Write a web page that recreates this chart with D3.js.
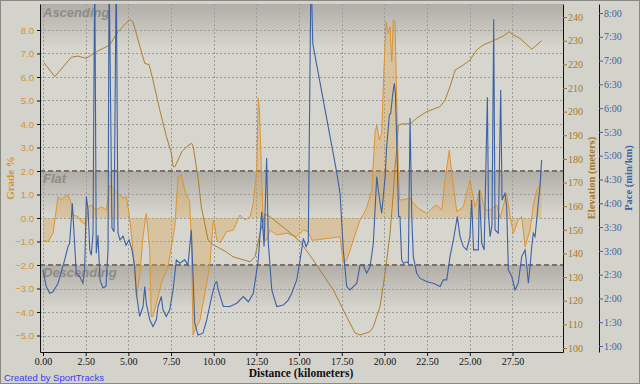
<!DOCTYPE html>
<html><head><meta charset="utf-8">
<script src="https://cdn.jsdelivr.net/npm/d3@7/dist/d3.min.js"></script>
<style>body{margin:0;background:#d4d3cb;} svg{display:block}</style>
</head><body><svg id="c" width="640" height="384"></svg>
<script>
// ---------- data ----------
const distTicks = [0, 2.5, 5, 7.5, 10, 12.5, 15, 17.5, 20, 22.5, 25, 27.5];
const gradeTicks = [-5, -4, -3, -2, -1, 0, 1, 2, 3, 4, 5, 6, 7, 8];
const elevTicks = [100, 110, 120, 130, 140, 150, 160, 170, 180, 190, 200, 210, 220, 230, 240];
const paceTicks = [1, 1.5, 2, 2.5, 3, 3.5, 4, 4.5, 5, 5.5, 6, 6.5, 7, 7.5, 8];

const elevDist = [0.06,0.69,1.66,2.05,2.54,3.12,3.91,4.39,5.08,5.27,5.57,5.96,6.21,6.44,6.84,7.23,7.52,7.63,7.73,8.13,8.42,8.71,8.80,9.10,9.27,9.67,9.98,10.66,11.13,12.13,12.42,12.71,13.01,13.30,14.28,15.06,15.83,17.01,17.79,18.28,18.57,19.16,19.35,19.74,20.04,20.33,20.52,20.62,20.72,20.81,21.03,21.50,21.89,22.48,23.26,23.55,23.84,24.14,24.62,25.01,25.41,25.79,26.38,26.97,27.30,27.55,27.94,28.63,29.21];
const elevValues = [220.7,214.8,223.0,223.5,222.5,225.3,228.2,233.8,239.0,238.0,230.3,220.4,219.9,213.4,200.7,189.4,182.4,176.7,176.7,183.0,185.2,186.6,185.2,171.1,159.8,145.7,143.6,141.0,138.6,136.5,138.6,148.6,156.7,155.5,149.9,145.0,137.2,124.5,113.2,106.3,105.5,106.9,109.0,117.5,131.7,148.6,165.6,176.6,183.8,194.3,194.8,194.8,197.2,200.0,202.1,204.9,210.5,217.6,219.7,221.8,226.1,228.2,230.0,232.0,233.8,232.4,231.0,226.4,230.0];

const gradeDist = [0.00,0.29,0.59,0.88,1.07,1.27,1.46,1.66,1.76,2.05,2.24,2.54,2.64,2.83,3.12,3.42,3.71,3.91,4.29,4.69,4.88,5.08,5.27,5.47,5.66,5.86,6.05,6.25,6.34,6.44,6.64,6.93,7.32,7.72,7.91,8.10,8.30,8.59,8.69,8.79,8.89,9.20,9.59,9.78,9.98,10.05,10.18,10.37,10.76,11.15,11.54,11.83,12.13,12.32,12.52,12.61,12.68,12.81,12.94,13.10,13.29,13.69,14.28,14.86,15.25,15.54,15.74,15.93,17.40,17.59,17.79,18.18,18.57,18.96,19.26,19.45,19.55,19.70,19.84,19.94,20.09,20.23,20.33,20.43,20.52,20.62,20.72,20.81,20.88,21.01,21.50,21.69,21.99,22.48,22.77,23.06,23.36,23.55,23.80,23.94,24.24,24.62,25.01,25.31,25.60,25.89,26.19,26.58,26.77,27.16,27.36,27.55,27.84,28.04,28.24,28.53,28.72,28.92,29.12,29.21];
const gradeValues = [-0.94,-1.01,-0.65,0.91,0.77,0.91,0.98,0.63,0.13,0.06,-0.16,-0.30,0.48,0.55,0.34,0.48,0.34,1.40,1.12,0.84,0.91,-0.01,-1.36,-3.35,-2.50,-0.80,0.20,-1.36,-4.20,-4.20,-3.63,-2.78,-2.07,-0.37,1.76,1.83,1.19,0.69,-0.94,-4.98,-4.77,-4.34,-2.77,-1.91,-0.09,-0.30,-0.94,-1.06,-0.58,-0.51,0.13,-0.09,0.06,0.64,2.04,5.11,4.60,1.62,-0.94,-0.94,-0.51,-0.72,-0.65,-0.80,-0.51,-0.58,-0.94,-0.94,-0.80,-1.93,-1.79,-0.94,-0.09,0.43,1.19,3.60,3.96,3.32,3.60,5.73,8.35,7.86,8.14,6.65,8.43,8.35,5.02,2.18,0.77,0.77,0.84,0.64,0.41,0.20,0.41,0.55,0.34,1.62,2.89,1.90,0.27,0.48,1.62,0.48,1.19,0.34,0.34,0.55,0.00,1.05,0.06,-0.65,-0.09,0.06,-1.22,-0.51,0.55,1.19,1.40,2.04];

const paceDist = [0.00,0.19,0.39,0.59,0.88,1.27,1.46,1.56,1.72,1.86,1.95,2.15,2.34,2.44,2.54,2.64,2.74,2.83,2.93,3.03,3.12,3.22,3.34,3.51,3.69,3.81,3.87,4.04,4.16,4.29,4.39,4.51,4.69,4.86,5.04,5.21,5.37,5.47,5.66,5.86,5.96,6.05,6.25,6.44,6.64,6.74,6.93,7.03,7.22,7.42,7.62,7.81,8.01,8.30,8.49,8.69,8.79,8.89,9.08,9.37,9.59,9.88,10.08,10.18,10.27,10.56,10.95,11.35,11.73,12.03,12.32,12.61,12.81,12.95,13.10,13.20,13.40,13.69,14.08,14.37,14.57,14.86,15.06,15.25,15.41,15.54,15.70,15.80,17.21,17.40,17.59,17.79,17.98,18.18,18.38,18.57,18.76,18.96,19.16,19.35,19.55,19.64,19.84,20.04,20.13,20.29,20.37,20.49,20.58,20.64,20.72,20.83,20.91,21.01,21.11,21.31,21.40,21.50,21.60,21.69,21.89,22.09,22.48,22.86,23.26,23.45,23.65,23.84,24.04,24.27,24.43,24.62,24.82,25.01,25.11,25.22,25.50,25.56,25.70,25.84,26.03,26.10,26.19,26.30,26.40,26.48,26.67,26.81,26.89,27.06,27.16,27.26,27.46,27.65,27.84,28.04,28.24,28.34,28.43,28.53,28.63,28.72,28.82,28.92,29.01,29.11,29.21];
const paceValues = [2.60,2.25,2.11,2.14,2.32,2.81,3.09,3.16,4.00,3.09,2.53,2.46,2.32,2.60,4.14,3.86,3.02,2.91,3.37,9.00,2.95,3.33,2.39,2.22,2.26,3.02,9.00,3.48,3.40,9.00,3.38,3.23,3.31,3.12,3.23,3.02,2.67,2.11,1.62,1.83,2.25,1.90,1.55,1.41,1.55,1.83,2.04,1.76,1.62,1.76,2.18,2.81,2.74,2.81,2.70,3.44,2.46,1.48,1.23,1.27,1.55,2.04,2.32,2.35,2.18,1.83,1.83,1.90,2.04,1.93,2.11,2.81,3.82,3.09,4.95,3.16,2.18,1.83,1.86,1.97,2.11,2.39,2.81,3.26,3.09,3.19,9.00,7.36,4.64,4.21,3.02,2.25,2.18,2.25,2.32,2.70,2.70,2.53,2.67,3.16,4.56,4.28,3.79,4.56,5.19,5.86,5.89,6.31,6.52,6.31,5.33,3.72,3.72,2.81,2.74,2.77,2.74,5.79,3.72,2.88,2.53,2.42,2.35,2.32,2.25,2.39,2.39,2.88,3.23,3.72,3.30,3.09,3.02,3.30,4.07,3.02,3.02,4.28,3.16,3.02,6.23,3.72,3.30,3.54,7.87,3.44,3.37,6.38,4.07,4.21,3.93,2.60,2.46,2.18,2.32,2.88,3.02,2.67,2.32,2.67,3.09,3.37,3.30,3.65,4.00,4.35,4.91];

const bandLabels = ["Ascending", "Flat", "Descending"];

// ---------- chart ----------
const svg = d3.select("#c");
const L = 40, R = 563, T = 4, B = 352;

const x = d3.scaleLinear().domain([-0.176, 30.46]).range([L, R]);
const yG = d3.scaleLinear().domain([-5.702, 9.106]).range([B, T]);
const yE = d3.scaleLinear().domain([98.31, 245.52]).range([B, T]);
const yP = d3.scaleLinear().domain([0.8739, 8.189]).range([B, T]);

const defs = svg.append("defs");
const grad = defs.append("linearGradient").attr("id", "band").attr("x1", 0).attr("y1", 0).attr("x2", 0).attr("y2", 1);
grad.append("stop").attr("offset", 0).attr("stop-color", "#b1aea7");
grad.append("stop").attr("offset", 1).attr("stop-color", "#d5d4cc");
defs.append("clipPath").attr("id", "clip").append("rect")
  .attr("x", L).attr("y", T).attr("width", R - L).attr("height", B - T);

// background
svg.append("rect").attr("x", 0).attr("y", 0).attr("width", 640).attr("height", 384).attr("fill", "#d4d3cb");
svg.append("rect").attr("x", L).attr("y", T).attr("width", R - L).attr("height", B - T).attr("fill", "#d6d5ce");

// bands
const bandTops = [T, yG(2), yG(-2)];
svg.selectAll("rect.band").data(bandTops).join("rect").attr("class", "band")
  .attr("x", L).attr("y", d => d).attr("width", R - L).attr("height", 42).attr("fill", "url(#band)");

// grid
const grid = svg.append("g").attr("stroke", "#9c9b96").attr("stroke-width", 1).attr("stroke-dasharray", "2,2");
grid.selectAll("line.v").data(distTicks).join("line").attr("class", "v")
  .attr("x1", d => Math.round(x(d)) + 0.5).attr("x2", d => Math.round(x(d)) + 0.5).attr("y1", T).attr("y2", B);
grid.selectAll("line.h").data(gradeTicks.filter(d => d !== 2 && d !== -2)).join("line").attr("class", "h")
  .attr("y1", d => Math.round(yG(d)) + 0.5).attr("y2", d => Math.round(yG(d)) + 0.5).attr("x1", L).attr("x2", R);

// dashed thresholds
svg.selectAll("line.th").data([2, -2]).join("line").attr("class", "th")
  .attr("x1", L).attr("x2", R).attr("y1", d => yG(d)).attr("y2", d => yG(d))
  .attr("stroke", "#7d6f69").attr("stroke-width", 2).attr("stroke-dasharray", "5,3");

// band labels
svg.selectAll("text.bl").data(bandLabels).join("text").attr("class", "bl")
  .attr("x", 43).attr("y", (d, i) => [17, yG(2) + 12, yG(-2) + 12][i])
  .attr("font-family", "Liberation Sans, Arial, sans-serif").attr("font-size", 13)
  .attr("font-weight", "bold").attr("font-style", "italic").attr("fill", "#8e8c87").text(d => d);

const plot = svg.append("g").attr("clip-path", "url(#clip)");

// grade fill + line
const gData = gradeDist.map((d, i) => [d, gradeValues[i]]);
plot.append("path").datum(gData)
  .attr("d", d3.area().x(d => x(d[0])).y0(yG(0)).y1(d => yG(d[1])))
  .attr("fill", "#dba450").attr("fill-opacity", 0.36);
plot.append("path").datum(gData)
  .attr("d", d3.line().x(d => x(d[0])).y(d => yG(d[1])))
  .attr("fill", "none").attr("stroke", "#dc9430").attr("stroke-width", 1);

// elevation
const eData = elevDist.map((d, i) => [d, elevValues[i]]);
plot.append("path").datum(eData)
  .attr("d", d3.line().x(d => x(d[0])).y(d => yE(d[1])))
  .attr("fill", "none").attr("stroke", "#b07e2c").attr("stroke-width", 1);

// pace
const pData = paceDist.map((d, i) => [d, paceValues[i]]);
plot.append("path").datum(pData)
  .attr("d", d3.line().x(d => x(d[0])).y(d => yP(d[1])))
  .attr("fill", "none").attr("stroke", "#3d62a4").attr("stroke-width", 1.1);

// axes
const serif = "Liberation Serif, Times New Roman, serif";
const sans = "Liberation Sans, Arial, sans-serif";

const ax = svg.append("g").attr("transform", `translate(0,${B})`)
  .call(d3.axisBottom(x).tickValues(distTicks).tickFormat(d3.format(".2f")).tickSize(4).tickSizeOuter(0));
ax.select(".domain").attr("stroke", "#111");
ax.selectAll(".tick line").attr("stroke", "#111");
ax.selectAll("text").attr("font-family", serif).attr("font-size", 10).attr("fill", "#111").attr("dy", "0.55em");

const ayL = svg.append("g").attr("transform", `translate(${L},0)`)
  .call(d3.axisLeft(yG).tickValues(gradeTicks).tickFormat(d3.format(".1f")).tickSize(3).tickSizeOuter(0));
ayL.select(".domain").attr("stroke", "#111");
ayL.selectAll(".tick line").attr("stroke", "#111");
ayL.selectAll("text").attr("font-family", sans).attr("font-size", 9.5).attr("fill", "#d4922c").attr("x", -6);

const ayE = svg.append("g").attr("transform", `translate(${R},0)`)
  .call(d3.axisRight(yE).tickValues(elevTicks).tickFormat(d3.format("d")).tickSize(4).tickSizeOuter(0));
ayE.select(".domain").attr("stroke", "#111");
ayE.selectAll(".tick line").attr("stroke", "#9a7430");
ayE.selectAll("text").attr("font-family", serif).attr("font-size", 10).attr("fill", "#a5782a").attr("x", 5);

const fmtPace = v => { const m = Math.floor(v); const s = Math.round((v - m) * 60); return m + ":" + String(s).padStart(2, "0"); };
const ayP = svg.append("g").attr("transform", "translate(599,0)")
  .call(d3.axisRight(yP).tickValues(paceTicks).tickFormat(fmtPace).tickSize(4).tickSizeOuter(0));
ayP.select(".domain").attr("stroke", "#111");
ayP.selectAll(".tick line").attr("stroke", "#3d62a4");
ayP.selectAll("text").attr("font-family", serif).attr("font-size", 10).attr("fill", "#3d62a4").attr("x", 5);

// titles
svg.append("text").attr("x", 301).attr("y", 377).attr("text-anchor", "middle")
  .attr("font-family", serif).attr("font-weight", "bold").attr("font-size", 11.5).attr("fill", "#111")
  .text("Distance (kilometers)");
svg.append("text").attr("transform", "translate(14,178) rotate(-90)").attr("text-anchor", "middle")
  .attr("font-family", serif).attr("font-weight", "bold").attr("font-size", 11).attr("fill", "#d4922c")
  .text("Grade %");
svg.append("text").attr("transform", "translate(595,178) rotate(-90)").attr("text-anchor", "middle")
  .attr("font-family", serif).attr("font-weight", "bold").attr("font-size", 10.5).attr("fill", "#a5782a")
  .text("Elevation (meters)");
svg.append("text").attr("transform", "translate(632,178) rotate(-90)").attr("text-anchor", "middle")
  .attr("font-family", serif).attr("font-weight", "bold").attr("font-size", 10.5).attr("fill", "#3d62a4")
  .text("Pace (min/km)");

svg.append("text").attr("x", 4).attr("y", 381)
  .attr("font-family", sans).attr("font-size", 9.5).attr("fill", "#3b3bf0")
  .text("Created by SportTracks");

// frame
svg.append("rect").attr("x", 0.5).attr("y", 0.5).attr("width", 639).attr("height", 383)
  .attr("fill", "none").attr("stroke", "#8a8985");
</script></body></html>
